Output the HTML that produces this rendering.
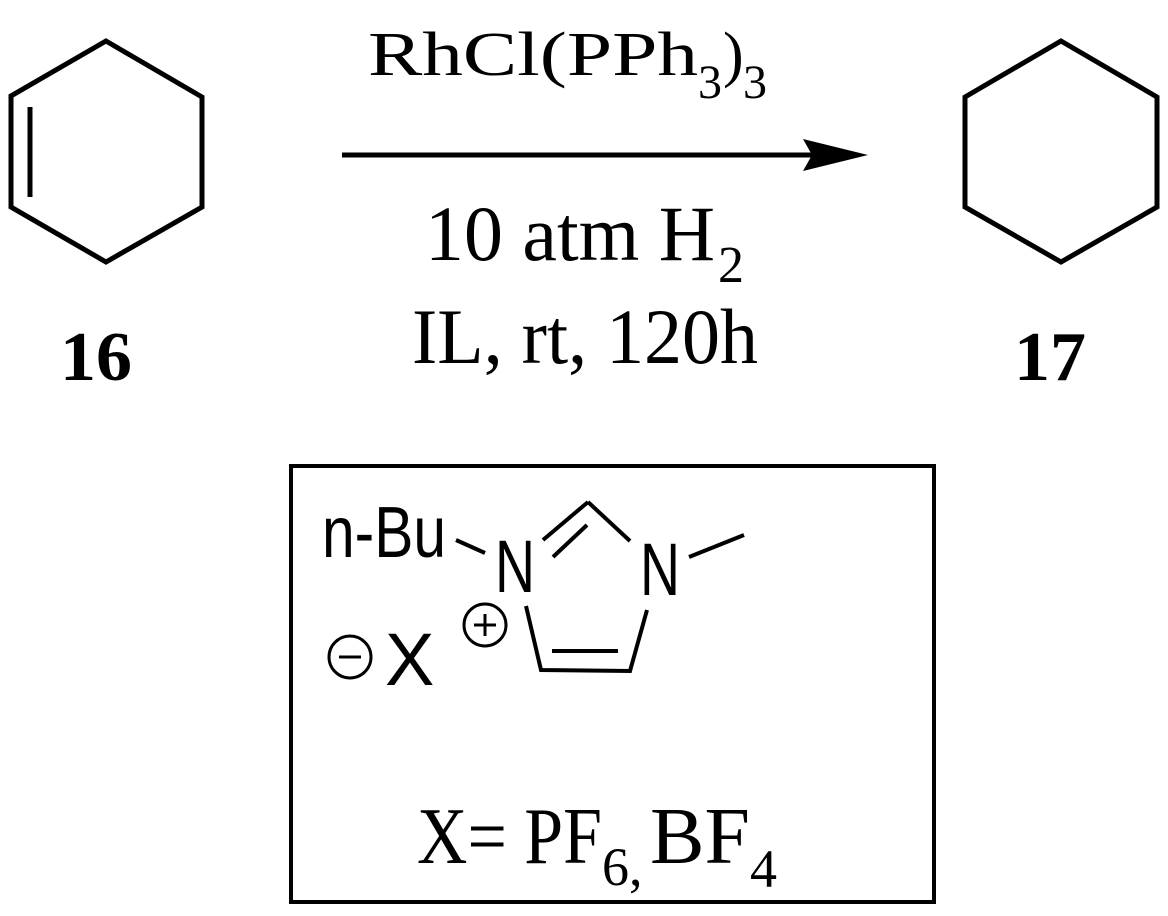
<!DOCTYPE html>
<html><head><meta charset="utf-8"><style>html,body{margin:0;padding:0;background:#fff}svg{display:block}</style></head>
<body>
<svg width="1168" height="916" viewBox="0 0 1168 916" xmlns="http://www.w3.org/2000/svg">
<g fill="none" stroke="#000" stroke-width="5" stroke-linejoin="miter" stroke-linecap="butt">
<polygon points="106,41 202,97 202,207 106,262 11,207 11,96"/>
<line x1="30" y1="107" x2="30" y2="197"/>
<polygon points="1061,41 1157,97 1157,207 1061,262 965,207 965,97"/>
<line x1="342" y1="155" x2="820" y2="155"/>
<rect x="291" y="466" width="643" height="436" stroke-width="4"/>
<line x1="456" y1="540" x2="485" y2="553" stroke-width="4"/>
<line x1="543" y1="540" x2="588" y2="502" stroke-width="4"/>
<line x1="553" y1="557" x2="587" y2="525" stroke-width="4"/>
<line x1="588" y1="502" x2="630" y2="541" stroke-width="4"/>
<line x1="689" y1="557" x2="744" y2="535" stroke-width="4"/>
<polyline points="526,606 541,670 630,671 647,610" stroke-width="4"/>
<line x1="552" y1="651" x2="618" y2="651" stroke-width="4"/>
<circle cx="485" cy="625" r="21" stroke-width="3"/>
<line x1="474" y1="625" x2="496" y2="625" stroke-width="3"/>
<line x1="485" y1="614" x2="485" y2="636" stroke-width="3"/>
<circle cx="350" cy="657" r="21" stroke-width="3"/>
<line x1="339" y1="657" x2="361" y2="657" stroke-width="3"/>
</g>
<polygon points="868,155 803,139 812,155 803,171" fill="#000"/>
<g font-family="Liberation Serif, serif" fill="#000">
<text x="368" y="75" font-size="62" textLength="330" lengthAdjust="spacingAndGlyphs">RhCl(PPh</text>
<text x="698" y="98" font-size="48">3</text>
<text x="723" y="75" font-size="62">)</text>
<text x="743" y="98" font-size="48">3</text>
<text x="425" y="260" font-size="78" textLength="290" lengthAdjust="spacingAndGlyphs">10 atm H</text>
<text x="718" y="282" font-size="52">2</text>
<text x="412" y="363" font-size="78" textLength="346" lengthAdjust="spacingAndGlyphs">IL, rt, 120h</text>
<text x="60" y="380" font-size="70" font-weight="bold" textLength="72" lengthAdjust="spacingAndGlyphs">16</text>
<text x="1014" y="380" font-size="70" font-weight="bold" textLength="72" lengthAdjust="spacingAndGlyphs">17</text>
<text x="417" y="863" font-size="80" textLength="185" lengthAdjust="spacingAndGlyphs">X= PF</text>
<text x="602" y="885" font-size="54">6,</text>
<text x="650" y="863" font-size="80" textLength="100" lengthAdjust="spacingAndGlyphs">BF</text>
<text x="750" y="887" font-size="54">4</text>
</g>
<g font-family="Liberation Sans, sans-serif" fill="#000">
<text x="322" y="557" font-size="72" textLength="124" lengthAdjust="spacingAndGlyphs">n-Bu</text>
<text x="495" y="592" font-size="74" textLength="40" lengthAdjust="spacingAndGlyphs">N</text>
<text x="640" y="595" font-size="74" textLength="40" lengthAdjust="spacingAndGlyphs">N</text>
<text x="385" y="685" font-size="74">X</text>
</g>
</svg>
</body></html>
